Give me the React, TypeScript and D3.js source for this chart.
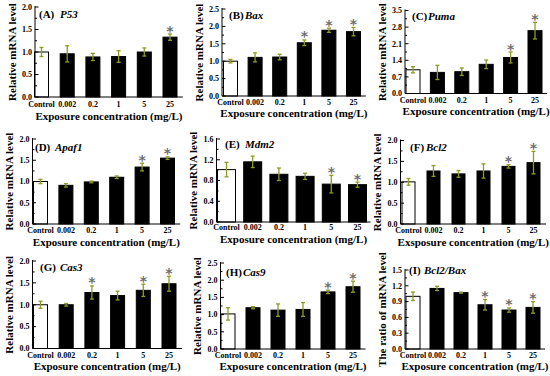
import React from 'react';
import * as d3 from 'd3';

const doses = ['Control', '0.002', '0.2', '1', '5', '25'];

const p53Mean = [1.0, 0.96, 0.89, 0.9, 1.0, 1.33];
const p53Err = [0.1, 0.18, 0.08, 0.13, 0.09, 0.07];
const p53Sig = [0, 0, 0, 0, 0, 1];

const baxMean = [1.0, 1.11, 1.12, 1.53, 1.89, 1.85];
const baxErr = [0.05, 0.13, 0.08, 0.08, 0.06, 0.12];
const baxSig = [0, 0, 0, 1, 1, 1];

const pumaMean = [1.0, 0.89, 0.92, 1.23, 1.52, 2.65];
const pumaErr = [0.13, 0.3, 0.16, 0.18, 0.23, 0.35];
const pumaSig = [0, 0, 0, 0, 1, 1];

const apafMean = [1.0, 0.91, 0.99, 1.1, 1.34, 1.55];
const apafErr = [0.05, 0.04, 0.02, 0.03, 0.09, 0.03];
const apafSig = [0, 0, 0, 0, 1, 1];

const mdmMean = [1.01, 1.16, 0.92, 0.88, 0.73, 0.72];
const mdmErr = [0.14, 0.11, 0.12, 0.06, 0.17, 0.05];
const mdmSig = [0, 0, 0, 0, 1, 1];

const bcl2Mean = [1.01, 1.27, 1.2, 1.27, 1.38, 1.47];
const bcl2Err = [0.08, 0.13, 0.08, 0.17, 0.04, 0.27];
const bcl2Sig = [0, 0, 0, 0, 1, 1];

const cas3Mean = [1.0, 1.0, 1.28, 1.21, 1.33, 1.48];
const cas3Err = [0.08, 0.03, 0.15, 0.1, 0.14, 0.17];
const cas3Sig = [0, 0, 1, 0, 1, 1];

const cas9Mean = [1.02, 1.2, 1.13, 1.15, 1.66, 1.81];
const cas9Err = [0.18, 0.03, 0.18, 0.2, 0.05, 0.16];
const cas9Sig = [0, 0, 0, 0, 1, 1];

const ratioMean = [1.0, 1.15, 1.07, 0.84, 0.74, 0.79];
const ratioErr = [0.08, 0.04, 0.01, 0.1, 0.04, 0.11];
const ratioSig = [0, 0, 0, 1, 1, 1];

const ticks20 = [0, 0.5, 1.0, 1.5, 2.0];
const ticks25 = [0, 0.5, 1.0, 1.5, 2.0, 2.5];
const ticks35 = [0, 0.7, 1.4, 2.1, 2.8, 3.5];
const ticks16 = [0, 0.4, 0.8, 1.2, 1.6];
const ticks15 = [0, 0.3, 0.6, 0.9, 1.2, 1.5];

const SERIF = "'Liberation Serif', 'DejaVu Serif', serif";
const ERR = '#8f9b22';

type PanelProps = {
  tag: string;
  gene: string;
  mean: number[];
  err: number[];
  sig: number[];
  yTicks: number[];
  yLabel?: string;
  xTitle?: string;
  ax: number; // axis x
  top: number;
  bottom: number;
  c0: number;
  step: number;
  bw: number;
  labelY: number;
  tagX: number;
  tagY: number;
  geneX: number;
};

const Panel: React.FC<PanelProps> = (p) => {
  const ymax = p.yTicks[p.yTicks.length - 1];
  const y = d3.scaleLinear().domain([0, ymax]).range([p.bottom, p.top]);
  const x = d3
    .scaleLinear()
    .domain([0, doses.length - 1])
    .range([p.c0, p.c0 + p.step * (doses.length - 1)]);
  const right = x(doses.length - 1) + p.step * 0.5;
  const minor = d3.pairs(p.yTicks).map(([a, b]) => (a + b) / 2);
  const fmt = d3.format('.1f');
  const yMid = (p.top + p.bottom) / 2;
  return (
    <g style={{ fontFamily: SERIF, fontWeight: 'bold' }}>
      {doses.map((d, i) => (
        <rect
          key={d}
          x={x(i) - p.bw / 2}
          y={y(p.mean[i])}
          width={p.bw}
          height={p.bottom - y(p.mean[i])}
          fill={i === 0 ? '#fff' : '#000'}
          stroke="#000"
          strokeWidth={1}
        />
      ))}
      {doses.map((d, i) => {
        const hi = y(p.mean[i] + p.err[i]);
        const lo = y(p.mean[i] - p.err[i]);
        return (
          <g key={'e' + d} stroke={ERR} strokeWidth={1.3}>
            <line x1={x(i)} x2={x(i)} y1={hi} y2={lo} />
            <line x1={x(i) - 2} x2={x(i) + 2} y1={hi} y2={hi} />
            <line x1={x(i) - 2} x2={x(i) + 2} y1={lo} y2={lo} />
          </g>
        );
      })}
      {doses.map((d, i) =>
        p.sig[i] ? (
          <text
            key={'s' + d}
            x={x(i)}
            y={y(p.mean[i] + p.err[i]) + 1.5}
            textAnchor="middle"
            style={{ fontSize: 14, fontWeight: 'bold', fontFamily: "'DejaVu Sans', sans-serif" }}
            fill="#6f6f6f"
          >
            *
          </text>
        ) : null
      )}
      <line x1={p.ax} x2={p.ax} y1={p.top - 1} y2={p.bottom} stroke="#000" strokeWidth={1} />
      <line x1={p.ax} x2={right} y1={p.bottom} y2={p.bottom} stroke="#000" strokeWidth={1} />
      {p.yTicks.map((t) => (
        <g key={'t' + t}>
          <line x1={p.ax} x2={p.ax + 3.5} y1={y(t)} y2={y(t)} stroke="#000" />
          <text x={p.ax - 3} y={y(t)} dy="0.35em" textAnchor="end" style={{ fontSize: 8 }}>
            {fmt(t)}
          </text>
        </g>
      ))}
      {minor.map((t) => (
        <line key={'m' + t} x1={p.ax} x2={p.ax + 2} y1={y(t)} y2={y(t)} stroke="#000" />
      ))}
      {doses.map((d, i) => (
        <text key={'x' + d} x={x(i)} y={p.labelY} dy="0.35em" textAnchor="middle" style={{ fontSize: 8 }}>
          {d}
        </text>
      ))}
      <text
        x={(p.ax + right) / 2}
        y={p.labelY + 11.5}
        dy="0.35em"
        textAnchor="middle"
        style={{ fontSize: 11 }}
      >
        {p.xTitle ?? 'Exposure concentration (mg/L)'}
      </text>
      <text
        transform={`translate(${p.ax - 23},${yMid}) rotate(-90)`}
        textAnchor="middle"
        dy="0.35em"
        style={{ fontSize: 11 }}
      >
        {p.yLabel ?? 'Relative mRNA level'}
      </text>
      <text x={p.tagX} y={p.tagY} dy="0.35em" style={{ fontSize: 11 }}>
        {p.tag}
      </text>
      <text x={p.geneX} y={p.tagY} dy="0.35em" style={{ fontSize: 11, fontStyle: 'italic' }}>
        {p.gene}
      </text>
    </g>
  );
};

const App: React.FC = () => (
  <svg
    width={550}
    height={376}
    style={{ position: 'absolute', left: 0, top: 0, background: '#fff' }}
  >
    <rect width={550} height={376} fill="#fff" />
    <Panel tag="(A)" gene="P53" mean={p53Mean} err={p53Err} sig={p53Sig} yTicks={ticks20}
      ax={35} top={7} bottom={97} c0={41.5} step={25.7} bw={14} labelY={104.5}
      tagX={39} tagY={14} geneX={60} />
    <Panel tag="(B)" gene="Bax" mean={baxMean} err={baxErr} sig={baxSig} yTicks={ticks25}
      ax={222} top={9} bottom={96} c0={230.5} step={24.6} bw={14} labelY={102}
      tagX={229} tagY={15.5} geneX={245} />
    <Panel tag="(C)" gene="Puma" mean={pumaMean} err={pumaErr} sig={pumaSig} yTicks={ticks35}
      ax={405} top={10.5} bottom={93.5} c0={413} step={24.4} bw={14} labelY={100}
      tagX={412} tagY={16} geneX={428} />
    <Panel tag="(D)" gene="Apaf1" mean={apafMean} err={apafErr} sig={apafSig} yTicks={ticks20}
      ax={32.5} top={139} bottom={224} c0={40.5} step={25.4} bw={14} labelY={230.5}
      tagX={35} tagY={147.5} geneX={55} />
    <Panel tag="(E)" gene="Mdm2" mean={mdmMean} err={mdmErr} sig={mdmSig} yTicks={ticks16}
      ax={216.5} top={139} bottom={222} c0={226.5} step={26.2} bw={18} labelY={227.5}
      tagX={225} tagY={144} geneX={245} />
    <Panel tag="(F)" gene="Bcl2" mean={bcl2Mean} err={bcl2Err} sig={bcl2Sig} yTicks={ticks20}
      xTitle="Exsposure concentration (mg/L)"
      ax={400.5} top={140.5} bottom={224} c0={408.5} step={25} bw={13} labelY={230.5}
      tagX={410} tagY={147.5} geneX={426} />
    <Panel tag="(G)" gene="Cas3" mean={cas3Mean} err={cas3Err} sig={cas3Sig} yTicks={ticks20}
      ax={32.5} top={261} bottom={348.5} c0={40.5} step={25.7} bw={14} labelY={355}
      tagX={40} tagY={267} geneX={60} />
    <Panel tag="(H)" gene="Cas9" mean={cas9Mean} err={cas9Err} sig={cas9Sig} yTicks={ticks25}
      ax={220.5} top={263} bottom={349} c0={228} step={25} bw={14} labelY={355}
      tagX={226} tagY={272.5} geneX={243} />
    <Panel tag="(I)" gene="Bcl2/Bax" mean={ratioMean} err={ratioErr} sig={ratioSig} yTicks={ticks15}
      yLabel="The ratio of mRNA level"
      ax={405} top={270} bottom={349} c0={413} step={24} bw={14} labelY={355}
      tagX={409} tagY={270} geneX={424} />
  </svg>
);

export default App;
